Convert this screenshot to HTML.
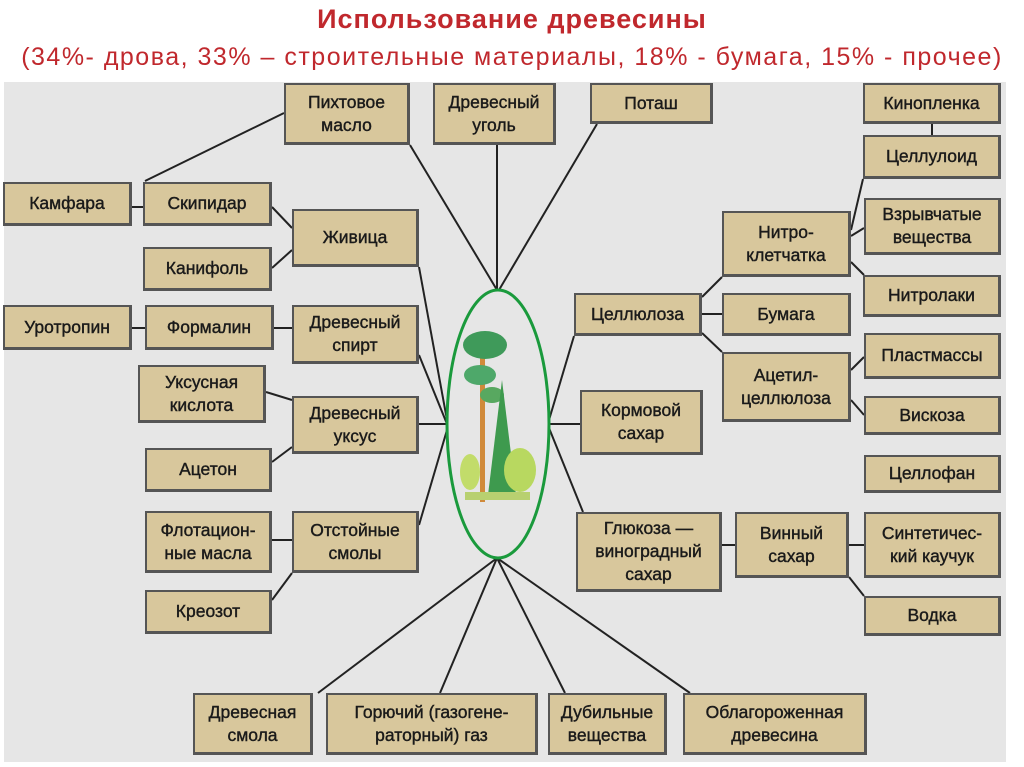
<!DOCTYPE html>
<html><head><meta charset="utf-8"><style>
body{margin:0;width:1024px;height:767px;background:#fff;position:relative;overflow:hidden;font-family:"Liberation Sans","DejaVu Sans",sans-serif}
.t1{position:absolute;left:0;width:1024px;top:4px;text-align:center;color:#c0282d;font-weight:bold;font-size:27px;letter-spacing:1px}
.t2{position:absolute;left:0;width:1024px;top:43px;text-align:center;color:#c0282d;font-size:25px;letter-spacing:1.5px;white-space:nowrap}
.bg{position:absolute;left:4px;top:82px;width:1002px;height:680px;background:#e6e6e6}
.b{position:absolute;box-sizing:border-box;background:#d8c79c;border:2px solid #555;border-right-width:3px;border-bottom-width:3px;display:flex;align-items:center;justify-content:center;text-align:center;font-size:17.5px;line-height:23px;color:#1a1a1a;-webkit-text-stroke:0.4px #1a1a1a}
svg{position:absolute;left:0;top:0}
</style></head><body>
<div class="t1">Использование древесины</div>
<div class="t2">(34%- дрова, 33% – строительные материалы, 18% - бумага, 15% - прочее)</div>
<div class="bg"></div>
<svg width="1024" height="767">
<g stroke="#222" stroke-width="2" fill="none">
<line x1="284" y1="113" x2="145" y2="181"/>
<line x1="410" y1="145" x2="497" y2="290"/>
<line x1="497" y1="145" x2="497" y2="290"/>
<line x1="597" y1="124" x2="499" y2="290"/>
<line x1="132" y1="207" x2="143" y2="207"/>
<line x1="272" y1="207" x2="292" y2="228"/>
<line x1="272" y1="268" x2="292" y2="250"/>
<line x1="419" y1="267" x2="447" y2="420"/>
<line x1="132" y1="328" x2="145" y2="328"/>
<line x1="274" y1="328" x2="292" y2="328"/>
<line x1="419" y1="355" x2="447" y2="424"/>
<line x1="266" y1="392" x2="292" y2="400"/>
<line x1="419" y1="424" x2="447" y2="424"/>
<line x1="272" y1="462" x2="292" y2="447"/>
<line x1="419" y1="525" x2="447" y2="430"/>
<line x1="272" y1="540" x2="292" y2="540"/>
<line x1="272" y1="600" x2="292" y2="573"/>
<line x1="497" y1="558" x2="318" y2="693"/>
<line x1="497" y1="558" x2="440" y2="693"/>
<line x1="497" y1="558" x2="565" y2="693"/>
<line x1="497" y1="558" x2="690" y2="693"/>
<line x1="549" y1="420" x2="574" y2="336"/>
<line x1="549" y1="424" x2="580" y2="424"/>
<line x1="549" y1="428" x2="583" y2="512"/>
<line x1="702" y1="297" x2="722" y2="277"/>
<line x1="702" y1="314" x2="722" y2="314"/>
<line x1="702" y1="333" x2="722" y2="352"/>
<line x1="851" y1="230" x2="863" y2="179"/>
<line x1="851" y1="236" x2="864" y2="228"/>
<line x1="851" y1="262" x2="864" y2="275"/>
<line x1="932" y1="124" x2="932" y2="135"/>
<line x1="851" y1="370" x2="864" y2="357"/>
<line x1="851" y1="400" x2="864" y2="415"/>
<line x1="722" y1="545" x2="735" y2="545"/>
<line x1="849" y1="545" x2="864" y2="545"/>
<line x1="849" y1="577" x2="864" y2="596"/>
</g>
<ellipse cx="498" cy="424" rx="51" ry="134" fill="#e6e6e6" stroke="#1a9a3c" stroke-width="3"/>
<g>
<rect x="480" y="340" width="5" height="162" fill="#d08a3a"/>
<ellipse cx="485" cy="345" rx="22" ry="14" fill="#3f9a5a"/>
<ellipse cx="480" cy="375" rx="16" ry="10" fill="#4ea86a"/>
<ellipse cx="492" cy="395" rx="12" ry="8" fill="#58a860"/>
<polygon points="502,380 488,495 516,495" fill="#3e9a4e"/>
<ellipse cx="520" cy="470" rx="16" ry="22" fill="#b8d860"/>
<ellipse cx="470" cy="472" rx="10" ry="18" fill="#c2dc6a"/>
<rect x="465" y="492" width="65" height="8" fill="#b8d070"/>
</g>
</svg>
<div class="b" style="left:284px;top:83px;width:126px;height:62px">Пихтовое<br>масло</div>
<div class="b" style="left:433px;top:83px;width:123px;height:62px">Древесный<br>уголь</div>
<div class="b" style="left:590px;top:83px;width:123px;height:41px">Поташ</div>
<div class="b" style="left:3px;top:182px;width:129px;height:44px">Камфара</div>
<div class="b" style="left:143px;top:182px;width:129px;height:44px">Скипидар</div>
<div class="b" style="left:292px;top:209px;width:127px;height:58px">Живица</div>
<div class="b" style="left:143px;top:247px;width:129px;height:44px">Канифоль</div>
<div class="b" style="left:3px;top:305px;width:129px;height:45px">Уротропин</div>
<div class="b" style="left:145px;top:305px;width:129px;height:45px">Формалин</div>
<div class="b" style="left:292px;top:305px;width:127px;height:59px">Древесный<br>спирт</div>
<div class="b" style="left:138px;top:365px;width:128px;height:58px">Уксусная<br>кислота</div>
<div class="b" style="left:292px;top:396px;width:127px;height:58px">Древесный<br>уксус</div>
<div class="b" style="left:145px;top:448px;width:127px;height:44px">Ацетон</div>
<div class="b" style="left:145px;top:511px;width:127px;height:62px">Флотацион-<br>ные масла</div>
<div class="b" style="left:292px;top:511px;width:127px;height:62px">Отстойные<br>смолы</div>
<div class="b" style="left:145px;top:590px;width:127px;height:44px">Креозот</div>
<div class="b" style="left:193px;top:693px;width:120px;height:62px">Древесная<br>смола</div>
<div class="b" style="left:326px;top:693px;width:212px;height:62px">Горючий (газогене-<br>раторный) газ</div>
<div class="b" style="left:548px;top:693px;width:119px;height:62px">Дубильные<br>вещества</div>
<div class="b" style="left:683px;top:693px;width:184px;height:62px">Облагороженная<br>древесина</div>
<div class="b" style="left:863px;top:83px;width:138px;height:41px">Кинопленка</div>
<div class="b" style="left:863px;top:135px;width:138px;height:44px">Целлулоид</div>
<div class="b" style="left:722px;top:211px;width:129px;height:66px">Нитро-<br>клетчатка</div>
<div class="b" style="left:864px;top:198px;width:137px;height:57px">Взрывчатые<br>вещества</div>
<div class="b" style="left:863px;top:275px;width:138px;height:42px">Нитролаки</div>
<div class="b" style="left:574px;top:293px;width:128px;height:43px">Целлюлоза</div>
<div class="b" style="left:722px;top:293px;width:129px;height:43px">Бумага</div>
<div class="b" style="left:722px;top:352px;width:129px;height:70px">Ацетил-<br>целлюлоза</div>
<div class="b" style="left:864px;top:333px;width:137px;height:46px">Пластмассы</div>
<div class="b" style="left:864px;top:396px;width:137px;height:39px">Вискоза</div>
<div class="b" style="left:580px;top:390px;width:123px;height:65px">Кормовой<br>сахар</div>
<div class="b" style="left:864px;top:455px;width:137px;height:38px">Целлофан</div>
<div class="b" style="left:576px;top:512px;width:146px;height:80px">Глюкоза —<br>виноградный<br>сахар</div>
<div class="b" style="left:735px;top:512px;width:114px;height:66px">Винный<br>сахар</div>
<div class="b" style="left:864px;top:512px;width:137px;height:66px">Синтетичес-<br>кий каучук</div>
<div class="b" style="left:864px;top:596px;width:137px;height:40px">Водка</div>
</body></html>
